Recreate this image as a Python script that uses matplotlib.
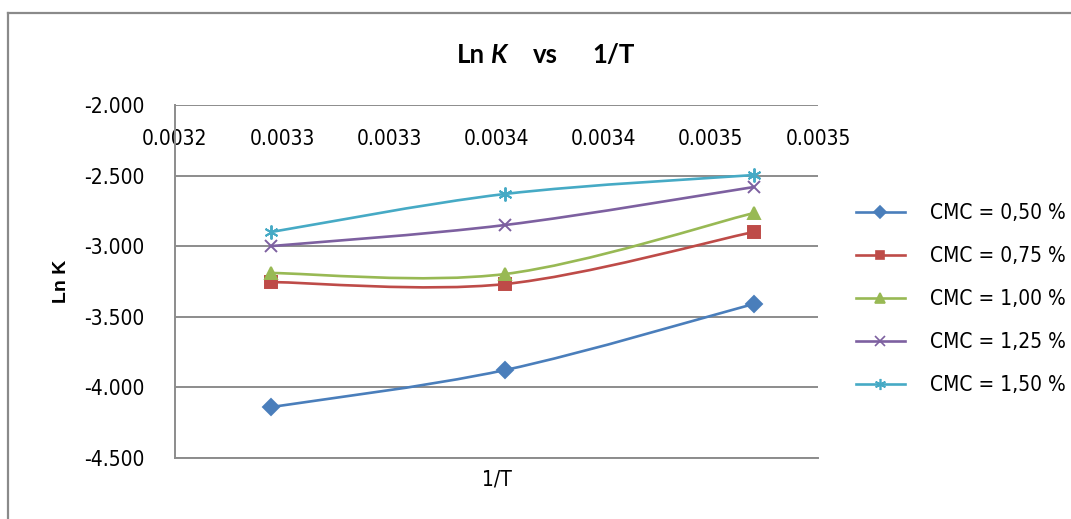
import matplotlib
matplotlib.use("Agg")
import matplotlib.pyplot as plt
from matplotlib.path import Path
from matplotlib.patches import PathPatch
from matplotlib.lines import Line2D
import numpy as np

# ── Data ──────────────────────────────────────────────────────────────────────
inv_T = [0.003245, 0.003354, 0.003470]          # 1/T for 35, 25, 15 °C
ln_k_050 = [-4.139, -3.877, -3.409]
ln_k_075 = [-3.254, -3.268, -2.899]
ln_k_100 = [-3.190, -3.197, -2.765]
ln_k_125 = [-2.999, -2.850, -2.581]
ln_k_150 = [-2.899, -2.630, -2.496]
series_labels = ["CMC = 0,50 %", "CMC = 0,75 %", "CMC = 1,00 %",
                 "CMC = 1,25 %", "CMC = 1,50 %"]

x_ticks = [0.0032, 0.00325, 0.0033, 0.00335, 0.0034, 0.00345, 0.0035]
x_tick_labels = ["0.0032", "0.0033", "0.0033", "0.0034",
                 "0.0034", "0.0035", "0.0035"]
y_ticks = [-4.5, -4.0, -3.5, -3.0, -2.5, -2.0]

# ── Style ─────────────────────────────────────────────────────────────────────
COLORS = ["#4A7EBB", "#BE4B48", "#98B954", "#7D60A0", "#46AAC5"]
MARKERS = ["D", "s", "^", "x", (6, 2, 0)]
MSIZES = [8, 8, 9, 9, 10]
GRID = "#8C8C8C"
NARROW = dict(family="DejaVu Sans", stretch="condensed")


def smooth_path(xs, ys):
    """Excel-style smoothed line: cubic Bezier through every point."""
    pts = np.column_stack([xs, ys])
    n = len(pts)
    verts = [pts[0]]
    codes = [Path.MOVETO]
    for i in range(n - 1):
        p0 = pts[i - 1] if i > 0 else pts[i]
        p1, p2 = pts[i], pts[i + 1]
        p3 = pts[i + 2] if i + 2 < n else pts[i + 1]
        c1 = p1 + (p2 - p0) / 6.0
        c2 = p2 - (p3 - p1) / 6.0
        verts += [c1, c2, p2]
        codes += [Path.CURVE4] * 3
    return Path(verts, codes)


fig = plt.figure(figsize=(10.71, 5.19), dpi=100)
ax = fig.add_axes([175 / 1071, 1 - 458 / 519, 643 / 1071, 353 / 519])

all_series = [ln_k_050, ln_k_075, ln_k_100, ln_k_125, ln_k_150]
handles = []
for ys, col, mk, ms, lab in zip(all_series, COLORS, MARKERS, MSIZES, series_labels):
    ax.add_patch(PathPatch(smooth_path(inv_T, ys), facecolor="none",
                           edgecolor=col, linewidth=1.9, zorder=3))
    ax.plot(inv_T, ys, linestyle="none", marker=mk, markersize=ms,
            color=col, markeredgecolor=col, markeredgewidth=1.4, zorder=4)
    handles.append(Line2D([0], [0], color=col, linewidth=1.9, marker=mk,
                          markersize=ms * 0.8, markeredgewidth=1.2, label=lab))

ax.set_xlim(0.0032, 0.0035)
ax.set_ylim(-4.5, -2.0)
ax.set_yticks(y_ticks)
ax.set_yticklabels([f"{v:.3f}" for v in y_ticks], fontsize=15, **NARROW)
ax.set_xticks(x_ticks)
ax.set_xticklabels(x_tick_labels, fontsize=15, **NARROW)
ax.xaxis.set_ticks_position("top")
ax.tick_params(axis="x", top=True, labeltop=True, bottom=False,
               labelbottom=False, length=0, pad=-32)
ax.tick_params(axis="y", length=0, pad=22)

ax.grid(axis="y", color=GRID, linewidth=1.4)
ax.set_axisbelow(True)
for side in ["top", "right"]:
    ax.spines[side].set_visible(False)
for side in ["left", "bottom"]:
    ax.spines[side].set_color(GRID)
    ax.spines[side].set_linewidth(1.4)

ax.set_xlabel("1/T", fontsize=15, labelpad=8, **NARROW)
ax.set_ylabel("Ln K", family="Liberation Sans", fontweight="bold", fontsize=14)
ax.yaxis.set_label_coords(-105 / 643, 0.5)

ax.legend(handles=handles, loc="center left",
          bbox_to_anchor=((856 - 175) / 643, 1 - (299 - 105) / 353),
          frameon=False, prop=dict(size=15, **NARROW), borderpad=0,
          borderaxespad=0, handlelength=2.35, handletextpad=1.2,
          labelspacing=1.1)

# Title: "Ln K   vs    1/T" with italic K
title_kw = dict(fontsize=18.5, fontweight="bold", family="Lato", va="center")
fig.text(457 / 1071, 1 - 55 / 519, "Ln", **title_kw)
fig.text(491 / 1071, 1 - 55 / 519, "K", style="italic", **title_kw)
fig.text(533 / 1071, 1 - 55 / 519, "vs", **title_kw)
fig.text(592 / 1071, 1 - 55 / 519, "1/T", **title_kw)

# Outer chart frame (left and top edges)
fig.add_artist(Line2D([8 / 1071, 8 / 1071], [0, 1 - 13 / 519],
                      transform=fig.transFigure, color="#8A8A8A", linewidth=1.6))
fig.add_artist(Line2D([8 / 1071, 1], [1 - 13 / 519, 1 - 13 / 519],
                      transform=fig.transFigure, color="#8A8A8A", linewidth=1.6))

fig.savefig("out.png", dpi=100, facecolor="white")
